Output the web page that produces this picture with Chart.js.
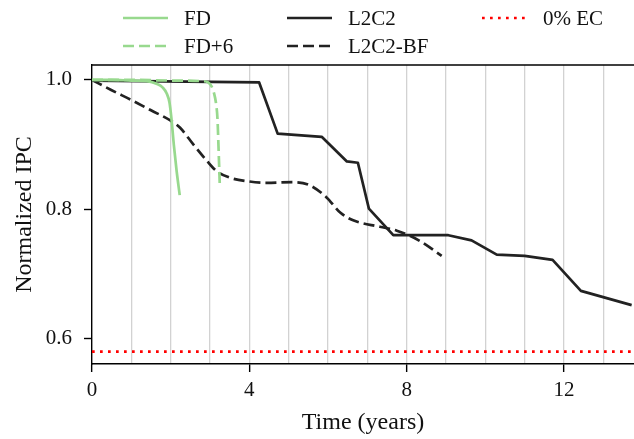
<!DOCTYPE html>
<html lang="en">
<head>
<meta charset="UTF-8">
<title>Normalized IPC over time</title>
<script src="https://cdn.jsdelivr.net/npm/chart.js@4"></script>
<style>
    html, body { margin: 0; padding: 0; background: #fff; }
    canvas { display: block; }
</style>
</head>
<body>
<canvas id="ipcChart" width="634" height="439"></canvas>
<script>
// Valores (anios, IPC normalizado)
const fdYears = [0, 0.5, 1.0, 1.4, 1.64, 1.8, 1.9, 1.97, 2.02, 2.08, 2.15, 2.23];
const fdIpc = [1.0, 1.0, 0.999, 0.998, 0.994, 0.988, 0.979, 0.965, 0.94, 0.90, 0.86, 0.822];

const fd6Years = [0, 1, 2, 2.8, 2.95, 3.04, 3.1, 3.15, 3.19, 3.22, 3.25];
const fd6Ipc = [1.0, 1.0, 0.999, 0.998, 0.996, 0.99, 0.98, 0.965, 0.94, 0.89, 0.835];

const l2c2Years = [0, 4.25, 4.72, 5.84, 6.48, 6.76, 7.04, 7.66, 9.06, 9.65, 10.29, 11.0, 11.71, 12.43, 13.72];
const l2c2Ipc = [0.999, 0.996, 0.917, 0.912, 0.874, 0.872, 0.801, 0.760, 0.760, 0.752, 0.730, 0.728, 0.722, 0.674, 0.652];

const bfYears = [0, 0.5, 1.0, 1.5, 2.0, 2.24, 2.58, 2.92, 3.17, 3.5, 4.0, 4.44, 5.12, 5.54, 5.97, 6.31, 6.64, 7.32, 7.75, 8.34, 8.89];
const bfIpc = [1.0, 0.984, 0.969, 0.953, 0.937, 0.926, 0.900, 0.875, 0.859, 0.849, 0.843, 0.841, 0.842, 0.837, 0.818, 0.795, 0.783, 0.773, 0.767, 0.751, 0.728];

const ecYears = [0, 14];
const ecIpc = [0.58, 0.58];

const xGridYears = [0, 1, 2, 3, 4, 5, 6, 7, 8, 9, 10, 11, 12, 13];
const xTickLabels = [0, 4, 8, 12];
const yTickLabels = [0.6, 0.8, 1.0];

const toPoints = (xs, ys) => xs.map((x, i) => ({ x: x, y: ys[i] }));

Chart.defaults.font.family = '"Liberation Serif", "Times New Roman", serif';
Chart.defaults.color = '#111';

// leyenda de 3 columnas, llenada por columnas como en matplotlib
const gridLegend = {
    id: 'gridLegend',
    afterDraw(chart) {
        const ctx = chart.ctx;
        const colX = [123, 287, 482];
        const rowY = [18, 46];
        chart.data.datasets.forEach((ds, i) => {
            const x = colX[Math.floor(i / 2)];
            const y = rowY[i % 2];
            ctx.save();
            ctx.strokeStyle = ds.borderColor;
            ctx.lineWidth = ds.borderWidth;
            ctx.setLineDash(ds.borderDash || []);
            ctx.beginPath();
            ctx.moveTo(x, y);
            ctx.lineTo(x + 45, y);
            ctx.stroke();
            ctx.setLineDash([]);
            ctx.fillStyle = '#111';
            ctx.font = '21px "Liberation Serif", serif';
            ctx.textBaseline = 'middle';
            ctx.fillText(ds.label, x + 61, y + 1);
            ctx.restore();
        });
    }
};

// borde superior del area de dibujo
const topSpine = {
    id: 'topSpine',
    afterDraw(chart) {
        const { ctx, chartArea } = chart;
        ctx.save();
        ctx.strokeStyle = '#000';
        ctx.lineWidth = 1.4;
        ctx.beginPath();
        ctx.moveTo(chartArea.left - 0.7, chartArea.top);
        ctx.lineTo(chartArea.right, chartArea.top);
        ctx.stroke();
        ctx.restore();
    }
};

const lineStyle = {
    pointRadius: 0,
    borderWidth: 2.7,
    fill: false,
    borderCapStyle: 'butt',
    borderJoinStyle: 'round'
};

new Chart(document.getElementById('ipcChart'), {
    type: 'line',
    data: {
        datasets: [
            { ...lineStyle, label: 'FD', data: toPoints(fdYears, fdIpc), borderColor: '#98d98e', cubicInterpolationMode: 'monotone' },
            { ...lineStyle, label: 'FD+6', data: toPoints(fd6Years, fd6Ipc), borderColor: '#98d98e', borderDash: [11, 5], cubicInterpolationMode: 'monotone' },
            { ...lineStyle, label: 'L2C2', data: toPoints(l2c2Years, l2c2Ipc), borderColor: '#222222', tension: 0 },
            { ...lineStyle, label: 'L2C2-BF', data: toPoints(bfYears, bfIpc), borderColor: '#222222', borderDash: [11, 5], cubicInterpolationMode: 'monotone' },
            { ...lineStyle, label: '0% EC', data: toPoints(ecYears, ecIpc), borderColor: '#ff0000', borderDash: [2.7, 5.3] }
        ]
    },
    options: {
        responsive: false,
        animation: false,
        devicePixelRatio: 1,
        layout: { padding: { top: 65, left: 0, right: 0, bottom: 0 } },
        plugins: {
            legend: { display: false },
            tooltip: { enabled: false }
        },
        scales: {
            x: {
                type: 'linear',
                min: 0,
                max: 13.78,
                afterBuildTicks: (scale) => { scale.ticks = xGridYears.map(v => ({ value: v })); },
                afterFit: (scale) => { scale.height = 75; },
                ticks: {
                    autoSkip: false,
                    maxRotation: 0,
                    padding: 6,
                    font: { size: 21 },
                    callback: (v) => xTickLabels.includes(v) ? String(v) : ''
                },
                grid: {
                    color: (c) => (c.tick && c.tick.value === 0) ? 'rgba(0,0,0,0)' : '#d2d2d2',
                    lineWidth: 1.3,
                    tickLength: 8,
                    tickWidth: 1.4,
                    tickColor: (c) => (c.tick && xTickLabels.includes(c.tick.value)) ? '#000' : 'rgba(0,0,0,0)'
                },
                border: { color: '#000', width: 1.4 },
                title: {
                    display: true,
                    text: 'Time (years)',
                    font: { size: 24 },
                    padding: { top: 0, bottom: 2 }
                }
            },
            y: {
                type: 'linear',
                min: 0.561,
                max: 1.023,
                afterBuildTicks: (scale) => { scale.ticks = yTickLabels.map(v => ({ value: v })); },
                afterFit: (scale) => { scale.width = 92; },
                ticks: {
                    padding: 12,
                    font: { size: 21 },
                    callback: (v) => Number(v).toFixed(1)
                },
                grid: {
                    drawOnChartArea: false,
                    tickLength: 8,
                    tickWidth: 1.4,
                    tickColor: '#000'
                },
                border: { color: '#000', width: 1.4 },
                title: {
                    display: true,
                    text: 'Normalized IPC',
                    font: { size: 24 },
                    padding: { top: 10, bottom: 0 }
                }
            }
        }
    },
    plugins: [gridLegend, topSpine]
});
</script>
</body>
</html>
